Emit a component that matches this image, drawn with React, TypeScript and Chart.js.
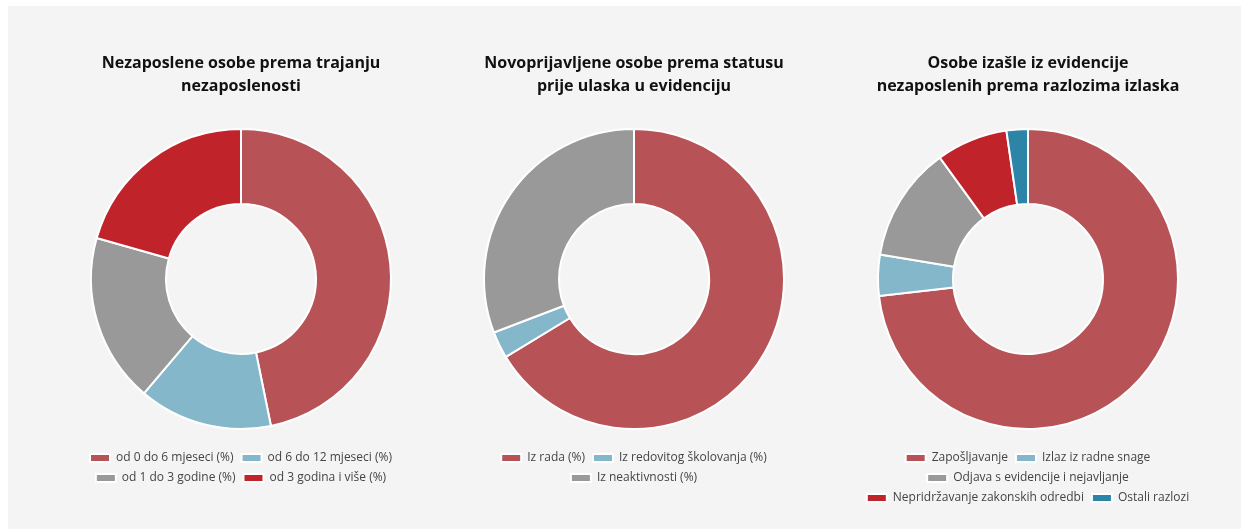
import React, { useEffect, useRef } from 'react';
import { Chart, registerables } from 'chart.js';

Chart.register(...registerables);

const durationLabels = ['od 0 do 6 mjeseci (%)', 'od 6 do 12 mjeseci (%)', 'od 1 do 3 godine (%)', 'od 3 godina i više (%)'];
const durationValues = [46.8, 14.4, 18.2, 20.6];
const durationTitle = ['Nezaposlene osobe prema trajanju', 'nezaposlenosti'];

const statusLabels = ['Iz rada (%)', 'Iz redovitog školovanja (%)', 'Iz neaktivnosti (%)'];
const statusValues = [66.3, 2.9, 30.8];
const statusTitle = ['Novoprijavljene osobe prema statusu', 'prije ulaska u evidenciju'];

const exitLabels = ['Zapošljavanje', 'Izlaz iz radne snage', 'Odjava s evidencije i nejavljanje', 'Nepridržavanje zakonskih odredbi', 'Ostali razlozi'];
const exitValues = [73.2, 4.4, 12.4, 7.7, 2.3];
const exitTitle = ['Osobe izašle iz evidencije', 'nezaposlenih prema razlozima izlaska'];

const BROWN = '#b75257';
const LIGHTBLUE = '#85b7cb';
const GRAY = '#999999';
const RED = '#c1232b';
const TEAL = '#2c84a6';

const FONT = "'Open Sans', 'Noto Sans', sans-serif";

type DonutProps = {
  labels: string[];
  values: number[];
  colors: string[];
  title: string[];
  left: number;
  extraBottom: number;
};

function Donut({ labels, values, colors, title, left, extraBottom }: DonutProps) {
  const ref = useRef<HTMLCanvasElement | null>(null);
  useEffect(() => {
    if (!ref.current) return;
    const chart = new Chart(ref.current, {
      type: 'doughnut',
      data: {
        labels,
        datasets: [
          {
            data: values,
            backgroundColor: colors,
            borderColor: '#ffffff',
            borderWidth: 2,
          },
        ],
      },
      options: {
        responsive: false,
        animation: false,
        radius: 150,
        cutout: '50%',
        layout: { padding: { bottom: extraBottom } },
        plugins: {
          title: {
            display: true,
            text: title,
            color: '#111111',
            font: { family: FONT, size: 16, weight: 'bold', lineHeight: 1.4375 },
            padding: { top: 45.5, bottom: 16.5 },
          },
          legend: {
            position: 'bottom',
            labels: {
              boxWidth: 20,
              boxHeight: 8,
              color: '#444444',
              font: { family: FONT, size: 12 },
              padding: 8,
            },
          },
          tooltip: { enabled: false },
        },
      } as any,
    });
    return () => chart.destroy();
  }, []);
  return (
    <canvas
      ref={ref}
      width={392}
      height={523}
      style={{ position: 'absolute', left, top: 0, width: 392, height: 523 }}
    />
  );
}

export default function App() {
  return (
    <div
      style={{
        position: 'absolute',
        left: 8,
        top: 6,
        width: 1233,
        height: 523,
        background: '#f4f4f4',
      }}
    >
      <Donut labels={durationLabels} values={durationValues} colors={[BROWN, LIGHTBLUE, GRAY, RED]} title={durationTitle} left={37} extraBottom={35} />
      <Donut labels={statusLabels} values={statusValues} colors={[BROWN, LIGHTBLUE, GRAY]} title={statusTitle} left={430} extraBottom={35} />
      <Donut labels={exitLabels} values={exitValues} colors={[BROWN, LIGHTBLUE, GRAY, RED, TEAL]} title={exitTitle} left={824} extraBottom={15} />
    </div>
  );
}
